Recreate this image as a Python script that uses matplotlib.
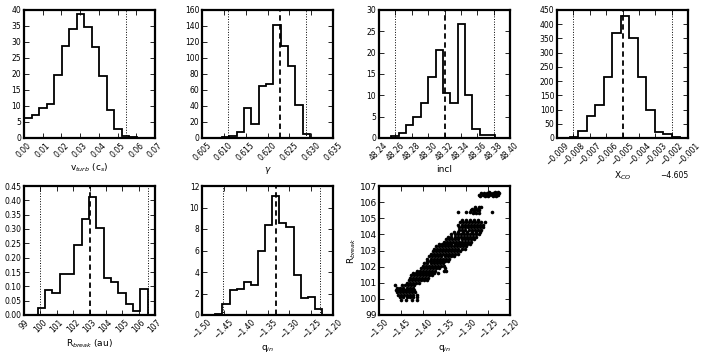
import numpy as np
import matplotlib
matplotlib.use("Agg")
import matplotlib.pyplot as plt
from matplotlib.ticker import MultipleLocator, ScalarFormatter

# ---------------- data ----------------
vturb_edges = np.linspace(0.0, 0.0602, 16)
vturb_vals = [6.2, 7.1, 9.35, 10.6, 19.6, 28.8, 34.2, 38.75, 34.6, 28.4, 19.4, 8.8, 2.8, 0.5, 0.2]
vturb_lines = [0.0545]

gamma_edges = np.linspace(0.6096, 0.6297, 13)
gamma_vals = [1, 3, 8, 38, 18, 65, 68, 141, 115, 90, 41, 5]
gamma_lines = [0.6109, 0.6288]
gamma_med = 0.62285

incl_edges = np.linspace(48.2551, 48.3901, 16)
incl_vals = [0.5, 1.2, 3, 5, 8.3, 14.3, 20.7, 10.5, 8.3, 26.7, 10, 2, 0.7, 0.7, 0.1]
incl_lines = [48.26, 48.38]
incl_med = 48.32

xco_offset = -4.605
xco_edges = xco_offset + np.linspace(-0.008206, -0.00149, 14)
xco_vals = [3.5, 23, 76, 116, 215, 370, 429, 353, 213, 99, 22, 14, 2]
xco_lines = [xco_offset - 0.0080, xco_offset - 0.0020]
xco_med = xco_offset - 0.0050

rb_edges = np.linspace(99.83, 106.56, 16)
rb_vals = [0.023, 0.087, 0.078, 0.142, 0.143, 0.243, 0.335, 0.412, 0.305, 0.13, 0.116, 0.078, 0.037, 0.013, 0.092]
rb_lines = [99.98, 106.6]
rb_med = 103.02

qin_edges = np.linspace(-1.4695, -1.2252, 16)
qin_vals = [0.1, 1.0, 2.35, 2.4, 3.05, 2.8, 5.95, 8.4, 11.1, 8.6, 8.2, 3.7, 1.6, 1.7, 0.6]
qin_lines = [-1.452, -1.229]
qin_med = -1.3315

# scatter samples read row by row: (R_break, [q_in values])
scatter_rows = [
    (99.95, [-1.450, -1.438, -1.425, -1.412]),
    (100.10, [-1.452, -1.445, -1.437, -1.430, -1.421, -1.413]),
    (100.25, [-1.457, -1.450, -1.443, -1.436, -1.429, -1.421, -1.414]),
    (100.40, [-1.459, -1.452, -1.445, -1.438, -1.431, -1.424, -1.417]),
    (100.55, [-1.462, -1.455, -1.448, -1.441, -1.434, -1.427, -1.420]),
    (100.70, [-1.458, -1.451, -1.444, -1.437, -1.430, -1.423]),
    (100.85, [-1.463, -1.447, -1.440, -1.433, -1.426, -1.419]),
    (101.00, [-1.436, -1.429, -1.422, -1.415, -1.408]),
    (101.15, [-1.432, -1.425, -1.418, -1.411, -1.404, -1.397, -1.390]),
    (101.30, [-1.430, -1.423, -1.416, -1.409, -1.402, -1.395, -1.388]),
    (101.45, [-1.427, -1.420, -1.413, -1.406, -1.399, -1.392, -1.385, -1.378]),
    (101.60, [-1.422, -1.415, -1.408, -1.401, -1.394, -1.387, -1.380, -1.373, -1.366]),
    (101.75, [-1.413, -1.406, -1.399, -1.392, -1.385, -1.378, -1.371, -1.352, -1.346]),
    (101.90, [-1.404, -1.397, -1.390, -1.383, -1.376, -1.369, -1.362, -1.349]),
    (102.05, [-1.400, -1.393, -1.386, -1.379, -1.372, -1.365, -1.358, -1.351]),
    (102.20, [-1.396, -1.389, -1.382, -1.375, -1.368, -1.361, -1.354]),
    (102.35, [-1.391, -1.384, -1.377, -1.370, -1.363, -1.356, -1.349, -1.342]),
    (102.50, [-1.389, -1.382, -1.375, -1.368, -1.361, -1.354, -1.347, -1.340]),
    (102.65, [-1.385, -1.378, -1.371, -1.364, -1.357, -1.350, -1.343, -1.336, -1.329]),
    (102.80, [-1.382, -1.375, -1.368, -1.361, -1.354, -1.347, -1.340, -1.333, -1.326, -1.319]),
    (102.95, [-1.377, -1.370, -1.363, -1.356, -1.349, -1.342, -1.335, -1.328, -1.321, -1.314]),
    (103.10, [-1.374, -1.367, -1.360, -1.353, -1.346, -1.339, -1.332, -1.325, -1.318, -1.311, -1.304]),
    (103.25, [-1.370, -1.363, -1.356, -1.349, -1.342, -1.335, -1.328, -1.321, -1.314, -1.307, -1.300]),
    (103.40, [-1.362, -1.355, -1.348, -1.341, -1.334, -1.327, -1.320, -1.313, -1.306, -1.299, -1.292]),
    (103.55, [-1.352, -1.345, -1.338, -1.331, -1.324, -1.317, -1.310, -1.303, -1.296, -1.289]),
    (103.70, [-1.346, -1.339, -1.332, -1.325, -1.318, -1.311, -1.304, -1.297, -1.290, -1.283]),
    (103.85, [-1.341, -1.334, -1.327, -1.320, -1.313, -1.306, -1.299, -1.292, -1.285, -1.278]),
    (104.00, [-1.334, -1.327, -1.320, -1.313, -1.306, -1.299, -1.292, -1.285, -1.278, -1.271]),
    (104.15, [-1.328, -1.318, -1.308, -1.298, -1.288, -1.278, -1.268]),
    (104.30, [-1.316, -1.309, -1.302, -1.295, -1.288, -1.281, -1.274, -1.267]),
    (104.45, [-1.317, -1.310, -1.303, -1.296, -1.289, -1.282, -1.275, -1.268, -1.261]),
    (104.60, [-1.318, -1.311, -1.304, -1.297, -1.290, -1.283, -1.276, -1.269, -1.262]),
    (104.75, [-1.315, -1.308, -1.301, -1.294, -1.287, -1.280, -1.273, -1.266, -1.258]),
    (104.90, [-1.309, -1.300, -1.291, -1.282, -1.273]),
    (105.30, [-1.285, -1.278, -1.272]),
    (105.40, [-1.318, -1.300, -1.292, -1.282, -1.242]),
    (105.50, [-1.290, -1.283, -1.276, -1.270]),
    (105.60, [-1.287, -1.280, -1.273]),
    (105.70, [-1.280, -1.272, -1.266]),
    (106.35, [-1.268, -1.258, -1.250, -1.240, -1.233]),
    (106.45, [-1.270, -1.262, -1.255, -1.248, -1.241, -1.234, -1.228]),
    (106.55, [-1.266, -1.259, -1.252, -1.245, -1.238, -1.231, -1.226]),
    (106.62, [-1.248, -1.235, -1.228]),
]
scatter_q = [q for R, qs in scatter_rows for q in qs]
scatter_R = [R for R, qs in scatter_rows for q in qs]

# ---------------- figure ----------------
fig = plt.figure(figsize=(7.08, 3.57), dpi=100)
W, H = 708.0, 357.0
col_left = [24, 202, 379, 557]
aw = 131
row_top = [10, 186]
ah = [128, 129]

TICK_FS = 5.5
LAB_FS = 6.5


def make_ax(col, row):
    l = col_left[col] / W
    b = 1 - (row_top[row] + ah[row]) / H
    ax = fig.add_axes([l, b, aw / W, ah[row] / H])
    for s in ax.spines.values():
        s.set_linewidth(1.6)
    ax.tick_params(direction='in', top=True, right=True, length=3.5, width=0.6,
                   labelsize=TICK_FS, pad=2)
    return ax


def style_x(ax):
    ax.tick_params(axis='x', labelrotation=45)
    for lab in ax.get_xticklabels():
        lab.set_ha('center')


def hist(ax, edges, vals):
    edges = np.asarray(edges)
    ax.hist(edges[:-1], bins=edges, weights=vals, histtype='step', color='k', lw=1.3)


def vlines(ax, lines, med=None):
    for v in lines:
        ax.axvline(v, color='k', ls=':', lw=0.7)
    if med is not None:
        ax.axvline(med, color='k', ls='--', lw=1.3, dashes=(3, 2))


# panel 1
ax = make_ax(0, 0)
hist(ax, vturb_edges, vturb_vals)
vlines(ax, vturb_lines)
ax.set_xlim(0, 0.07); ax.set_ylim(0, 40)
ax.xaxis.set_major_locator(MultipleLocator(0.01))
ax.yaxis.set_major_locator(MultipleLocator(5))
style_x(ax)
ax.set_xlabel(r'v$_{turb}$ (c$_s$)', fontsize=LAB_FS, labelpad=2)

# panel 2
ax = make_ax(1, 0)
hist(ax, gamma_edges, gamma_vals)
vlines(ax, gamma_lines, gamma_med)
ax.set_xlim(0.605, 0.635); ax.set_ylim(0, 160)
ax.xaxis.set_major_locator(MultipleLocator(0.005))
ax.yaxis.set_major_locator(MultipleLocator(20))
style_x(ax)
ax.set_xlabel(r'$\gamma$', fontsize=LAB_FS, labelpad=2)

# panel 3
ax = make_ax(2, 0)
hist(ax, incl_edges, incl_vals)
vlines(ax, incl_lines, incl_med)
ax.set_xlim(48.24, 48.40); ax.set_ylim(0, 30)
ax.xaxis.set_major_locator(MultipleLocator(0.02))
ax.yaxis.set_major_locator(MultipleLocator(5))
ax.xaxis.set_major_formatter(ScalarFormatter(useOffset=False))
style_x(ax)
ax.set_xlabel('incl', fontsize=LAB_FS, labelpad=2)

# panel 4
ax = make_ax(3, 0)
hist(ax, xco_edges, xco_vals)
vlines(ax, xco_lines, xco_med)
ax.set_xlim(xco_offset - 0.009, xco_offset - 0.001); ax.set_ylim(0, 450)
ax.xaxis.set_major_locator(MultipleLocator(0.001))
ax.yaxis.set_major_locator(MultipleLocator(50))
ax.xaxis.set_major_formatter(ScalarFormatter(useOffset=xco_offset))
ax.xaxis.get_offset_text().set_fontsize(TICK_FS)
style_x(ax)
ax.set_xlabel(r'X$_{CO}$', fontsize=LAB_FS, labelpad=2)

# panel 5
ax = make_ax(0, 1)
hist(ax, rb_edges, rb_vals)
vlines(ax, rb_lines, rb_med)
ax.set_xlim(99, 107); ax.set_ylim(0, 0.45)
ax.xaxis.set_major_locator(MultipleLocator(1))
ax.yaxis.set_major_locator(MultipleLocator(0.05))
style_x(ax)
ax.set_xlabel(r'R$_{break}$ (au)', fontsize=LAB_FS, labelpad=2)

# panel 6
ax = make_ax(1, 1)
hist(ax, qin_edges, qin_vals)
vlines(ax, qin_lines, qin_med)
ax.set_xlim(-1.5, -1.2); ax.set_ylim(0, 12)
ax.xaxis.set_major_locator(MultipleLocator(0.05))
ax.yaxis.set_major_locator(MultipleLocator(2))
style_x(ax)
ax.set_xlabel(r'q$_{in}$', fontsize=LAB_FS, labelpad=2)

# panel 7
ax = make_ax(2, 1)
ax.plot(scatter_q, scatter_R, 'o', color='k', ms=2.6, mew=0)
ax.set_xlim(-1.5, -1.2); ax.set_ylim(99, 107)
ax.xaxis.set_major_locator(MultipleLocator(0.05))
ax.yaxis.set_major_locator(MultipleLocator(1))
ax.tick_params(axis='y', labelsize=6.5, pad=1.5)
style_x(ax)
ax.set_xlabel(r'q$_{in}$', fontsize=LAB_FS, labelpad=2)
ax.set_ylabel(r'R$_{break}$', fontsize=LAB_FS, labelpad=1)

fig.savefig('out.png', dpi=100)
